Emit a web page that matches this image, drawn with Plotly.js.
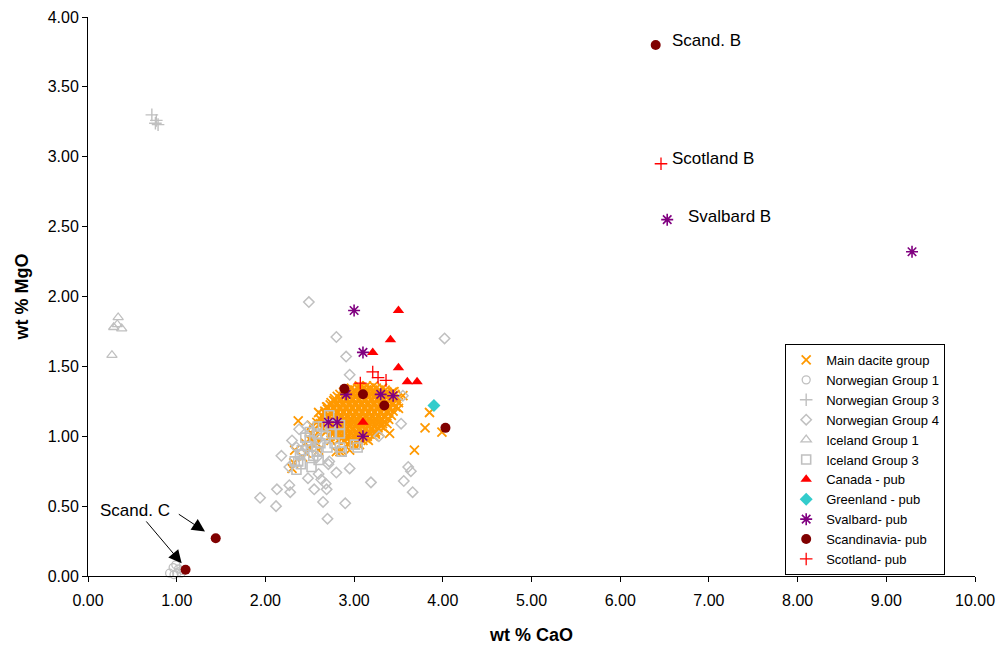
<!DOCTYPE html>
<html>
<head>
<meta charset="utf-8">
<script src="https://cdn.plot.ly/plotly-3.0.1.min.js"></script>
<style>html,body{margin:0;padding:0;background:#fff;}#chart{width:1001px;height:648px;}</style>
</head>
<body>
<div id="chart"></div>
<script>
// ---- data (wt % CaO, wt % MgO) ----
const daciteXY = [
 [3.06,1.36],[3.14,1.36],[3.22,1.36],
 [2.97,1.345],[3.04,1.345],[3.11,1.345],[3.18,1.345],[3.25,1.345],[3.32,1.345],
 [2.93,1.33],[3.00,1.33],[3.07,1.33],[3.14,1.33],[3.21,1.33],[3.28,1.33],[3.35,1.33],
 [2.88,1.315],[2.95,1.315],[3.02,1.315],[3.09,1.315],[3.16,1.315],[3.23,1.315],[3.30,1.315],[3.37,1.315],[3.43,1.315],
 [2.84,1.30],[2.91,1.30],[2.98,1.30],[3.05,1.30],[3.12,1.30],[3.19,1.30],[3.26,1.30],[3.33,1.30],[3.40,1.30],[3.46,1.30],
 [2.81,1.285],[2.88,1.285],[2.95,1.285],[3.02,1.285],[3.09,1.285],[3.16,1.285],[3.23,1.285],[3.30,1.285],[3.37,1.285],[3.44,1.285],
 [2.78,1.27],[2.85,1.27],[2.92,1.27],[2.99,1.27],[3.06,1.27],[3.13,1.27],[3.20,1.27],[3.27,1.27],[3.34,1.27],[3.41,1.27],[3.48,1.27],
 [2.77,1.255],[2.84,1.255],[2.91,1.255],[2.98,1.255],[3.05,1.255],[3.12,1.255],[3.19,1.255],[3.26,1.255],[3.33,1.255],[3.40,1.255],[3.47,1.255],
 [2.74,1.24],[2.81,1.24],[2.88,1.24],[2.95,1.24],[3.02,1.24],[3.09,1.24],[3.16,1.24],[3.23,1.24],[3.30,1.24],[3.37,1.24],[3.44,1.24],[3.50,1.24],
 [2.73,1.225],[2.80,1.225],[2.87,1.225],[2.94,1.225],[3.01,1.225],[3.08,1.225],[3.15,1.225],[3.22,1.225],[3.29,1.225],[3.36,1.225],[3.43,1.225],
 [2.70,1.21],[2.77,1.21],[2.84,1.21],[2.91,1.21],[2.98,1.21],[3.05,1.21],[3.12,1.21],[3.19,1.21],[3.26,1.21],[3.33,1.21],[3.40,1.21],[3.47,1.21],
 [2.70,1.195],[2.77,1.195],[2.84,1.195],[2.91,1.195],[2.98,1.195],[3.05,1.195],[3.12,1.195],[3.19,1.195],[3.26,1.195],[3.33,1.195],[3.40,1.195],
 [2.67,1.18],[2.74,1.18],[2.81,1.18],[2.88,1.18],[2.95,1.18],[3.02,1.18],[3.09,1.18],[3.16,1.18],[3.23,1.18],[3.30,1.18],[3.37,1.18],[3.44,1.18],
 [2.67,1.165],[2.74,1.165],[2.81,1.165],[2.88,1.165],[2.95,1.165],[3.02,1.165],[3.09,1.165],[3.16,1.165],[3.23,1.165],[3.30,1.165],[3.38,1.165],
 [2.64,1.15],[2.71,1.15],[2.78,1.15],[2.85,1.15],[2.92,1.15],[2.99,1.15],[3.06,1.15],[3.13,1.15],[3.20,1.15],[3.27,1.15],[3.34,1.15],[3.42,1.15],
 [2.65,1.135],[2.72,1.135],[2.79,1.135],[2.86,1.135],[2.93,1.135],[3.00,1.135],[3.07,1.135],[3.14,1.135],[3.21,1.135],[3.28,1.135],[3.35,1.135],
 [2.62,1.12],[2.69,1.12],[2.76,1.12],[2.83,1.12],[2.90,1.12],[2.97,1.12],[3.04,1.12],[3.11,1.12],[3.18,1.12],[3.25,1.12],[3.32,1.12],[3.39,1.12],
 [2.65,1.105],[2.72,1.105],[2.79,1.105],[2.86,1.105],[2.93,1.105],[3.00,1.105],[3.07,1.105],[3.14,1.105],[3.21,1.105],[3.28,1.105],[3.34,1.105],
 [2.62,1.09],[2.69,1.09],[2.76,1.09],[2.83,1.09],[2.90,1.09],[2.97,1.09],[3.04,1.09],[3.11,1.09],[3.18,1.09],[3.25,1.09],[3.32,1.09],[3.37,1.09],
 [2.67,1.075],[2.74,1.075],[2.81,1.075],[2.88,1.075],[2.95,1.075],[3.02,1.075],[3.09,1.075],[3.16,1.075],[3.23,1.075],[3.30,1.075],
 [2.64,1.06],[2.71,1.06],[2.78,1.06],[2.85,1.06],[2.92,1.06],[2.99,1.06],[3.06,1.06],[3.13,1.06],[3.20,1.06],[3.27,1.06],[3.33,1.06],
 [2.70,1.045],[2.77,1.045],[2.84,1.045],[2.91,1.045],[2.98,1.045],[3.05,1.045],[3.12,1.045],[3.19,1.045],[3.26,1.045],
 [2.68,1.03],[2.75,1.03],[2.82,1.03],[2.89,1.03],[2.96,1.03],[3.03,1.03],[3.10,1.03],[3.17,1.03],[3.24,1.03],[3.29,1.03],
 [2.76,1.015],[2.83,1.015],[2.90,1.015],[2.97,1.015],[3.04,1.015],[3.11,1.015],[3.18,1.015],[3.24,1.015],
 [2.73,1.00],[2.80,1.00],[2.87,1.00],[2.94,1.00],[3.01,1.00],[3.08,1.00],[3.15,1.00],[3.22,1.00],
 [2.85,0.985],[2.92,0.985],[2.99,0.985],[3.06,0.985],[3.13,0.985],
 [2.82,0.97],[2.89,0.97],[2.96,0.97],[3.03,0.97],[3.10,0.97],[3.16,0.97],
 [2.96,0.955],[3.03,0.955],
 [2.93,0.94],[3.00,0.94],[3.06,0.94],
 [2.55,1.05],[2.50,0.98],[2.45,0.95],[2.58,1.10],[2.60,0.90],[2.42,0.85],[2.57,0.99],[2.52,1.08],
 [2.37,1.11],[2.32,0.81],[2.33,0.90],[2.30,0.77],[2.52,1.02],[2.84,0.89],[2.80,0.89],[2.86,0.90],
 [3.05,0.94],[3.85,1.17],[3.80,1.06],[3.99,1.03],[3.68,0.90],[3.14,1.33],[2.69,1.21],[2.78,1.25],
 [3.07,1.35],[3.55,1.29],[2.58,0.95],[2.46,0.88],[3.45,1.32],[3.50,1.20],[3.40,1.02],[2.95,0.90],
 [2.74,0.97],[2.60,1.17],[2.55,1.00],[2.50,0.92]
];
const norw1XY = [[0.92,0.02],[0.96,0.06],[1.00,0.02],[1.02,0.05],[0.97,0.01],[1.05,0.02],[0.99,0.08],[1.07,0.04]];
const norw3XY = [[0.72,3.30],[0.77,3.26],[0.79,3.23],[0.76,3.24]];
const norw4XY = [
 [2.49,1.96],[2.80,1.71],[4.02,1.70],[2.91,1.57],[2.95,1.44],[3.53,1.09],[3.28,1.00],[2.30,0.97],
 [2.47,1.07],[2.18,0.86],[2.72,0.82],[2.71,0.80],[2.80,0.74],[2.95,0.77],[2.60,0.73],[2.63,0.69],
 [2.68,0.66],[2.48,0.70],[2.27,0.78],[2.13,0.62],[2.28,0.60],[2.55,0.62],[2.69,0.62],[3.19,0.67],
 [3.56,0.68],[3.61,0.78],[3.64,0.75],[3.66,0.60],[1.94,0.56],[2.12,0.50],[2.27,0.65],[2.65,0.53],
 [2.70,0.41],[2.90,0.52],[3.55,1.29],[2.35,0.92],[2.42,0.88],[2.60,0.98],[2.38,1.05],[2.58,0.85],[2.53,0.92]
];
const ice1XY = [[0.34,1.85],[0.29,1.78],[0.38,1.77],[0.33,1.80],[0.27,1.58]];
const ice3XY = [
 [2.35,0.76],[2.37,0.82],[2.41,0.90],[2.47,0.93],[2.50,0.97],[2.58,0.89],[2.60,0.83],[2.58,1.02],
 [2.65,1.07],[2.72,1.15],[2.73,1.08],[2.84,1.08],[2.84,1.02],[2.86,0.89],[3.01,0.94],[2.78,0.95],
 [2.52,0.78],[2.39,0.87],[2.45,0.99],[2.59,1.07],[2.84,0.92],[3.04,0.92],[2.33,0.82],[2.54,0.86],
 [2.50,1.03],[2.75,1.02],[2.62,0.95],[2.68,1.00],[2.70,0.92],[2.40,0.80]
];
const canadaXY = [[3.50,1.90],[3.41,1.69],[3.21,1.60],[3.50,1.49],[3.60,1.39],[3.71,1.39],[3.10,1.10]];
const greenlandXY = [[3.90,1.22]];
const svalbardXY = [[3.00,1.90],[3.10,1.60],[2.91,1.30],[3.30,1.30],[3.44,1.29],[2.71,1.10],[2.81,1.10],[3.10,1.00],[6.53,2.55],[9.29,2.32]];
const scandXY = [[6.40,3.80],[2.89,1.34],[3.10,1.30],[3.34,1.22],[4.03,1.06],[1.44,0.27],[1.10,0.045]];
const scotlandXY = [[6.46,2.95],[3.21,1.46],[3.07,1.38],[3.27,1.42],[3.36,1.40]];

const seriesNames = ["Main dacite group","Norwegian Group 1","Norwegian Group 3","Norwegian Group 4","Iceland Group 1","Iceland Group 3","Canada - pub","Greenland - pub","Svalbard- pub","Scandinavia- pub","Scotland- pub"];
const xTickVals = [0,1,2,3,4,5,6,7,8,9,10];
const yTickVals = [0,0.5,1,1.5,2,2.5,3,3.5,4];
const labels = [
 {text:"Scand. B", x:6.56, y:3.83},
 {text:"Scotland B", x:6.56, y:2.99},
 {text:"Svalbard B", x:6.74, y:2.57},
 {text:"Scand. C", x:0.11, y:0.466}
];
const arrows = [
 {x:1.056, y:0.091, ax:0.643, ay:0.401},
 {x:1.319, y:0.318, ax:1.007, ay:0.449}
];

// ---- styling ----
const GREY = "#C0C0C0";
const styles = [
 {symbol:"x-thin-open", size:9, color:"#FF9900", lw:1.8},
 {symbol:"circle-open", size:8, color:GREY, lw:1.3},
 {symbol:"cross-thin-open", size:9, color:GREY, lw:1.4},
 {symbol:"diamond-open", size:8, color:GREY, lw:1.5},
 {symbol:"triangle-up-open", size:9, color:GREY, lw:1.3},
 {symbol:"square-open", size:9, color:GREY, lw:1.6},
 {symbol:"triangle-up", size:10, color:"#FF0000", lw:0},
 {symbol:"diamond", size:10, color:"#33CCCC", lw:0},
 {symbol:"asterisk-open", size:10, color:"#800080", lw:1.6},
 {symbol:"circle", size:10, color:"#800000", lw:0},
 {symbol:"cross-thin-open", size:9, color:"#FF0000", lw:1.3}
];
const sets = [daciteXY,norw1XY,norw3XY,norw4XY,ice1XY,ice3XY,canadaXY,greenlandXY,svalbardXY,scandXY,scotlandXY];

const traces = sets.map((pts,i)=>{
  const s = styles[i];
  const m = {symbol:s.symbol, size:s.size, color:s.color};
  if (s.lw>0) m.line = {color:s.color, width:s.lw};
  return {type:"scatter", mode:"markers", name:seriesNames[i],
    x:pts.map(p=>p[0]), y:pts.map(p=>p[1]), marker:m, cliponaxis:false, hoverinfo:"x+y"};
});

const FONT = "Liberation Sans, Arial, sans-serif";
const annotations = labels.map(l=>({x:l.x, y:l.y, xref:"x", yref:"y", text:l.text, showarrow:false,
  xanchor:"left", yanchor:"middle", font:{family:FONT, size:17, color:"#000"}}));
arrows.forEach(a=>annotations.push({x:a.x, y:a.y, ax:a.ax, ay:a.ay, xref:"x", yref:"y", axref:"x", ayref:"y",
  text:"", showarrow:true, arrowhead:2, arrowsize:2.6, arrowwidth:1, arrowcolor:"#000"}));

const layout = {
  width:1001, height:648,
  margin:{l:88, r:26, t:17, b:72},
  paper_bgcolor:"#fff", plot_bgcolor:"#fff",
  font:{family:FONT, size:16, color:"#000"},
  showlegend:true,
  legend:{x:0.786, y:0.415, xanchor:"left", yanchor:"top", bgcolor:"#fff", bordercolor:"#000", borderwidth:1,
    font:{family:FONT, size:13, color:"#000"}, tracegroupgap:0, itemsizing:"trace"},
  xaxis:{range:[0,10], tickvals:xTickVals, tickformat:".2f", showgrid:false, zeroline:false,
    showline:true, linecolor:"#000", linewidth:1, ticks:"outside", ticklen:5, tickcolor:"#000",
    ticklabelstandoff:5,
    tickfont:{family:FONT, size:16}, title:{text:"<b>wt % CaO</b>", font:{family:FONT, size:18}, standoff:20}},
  yaxis:{range:[0,4], tickvals:yTickVals, tickformat:".2f", showgrid:false, zeroline:false,
    showline:true, linecolor:"#000", linewidth:1, ticks:"outside", ticklen:5, tickcolor:"#000",
    tickfont:{family:FONT, size:16}, title:{text:"<b>wt % MgO</b>", font:{family:FONT, size:18}, standoff:14}},
  annotations:annotations
};
Plotly.newPlot("chart", traces, layout, {displayModeBar:false, staticPlot:true});
</script>
</body>
</html>
